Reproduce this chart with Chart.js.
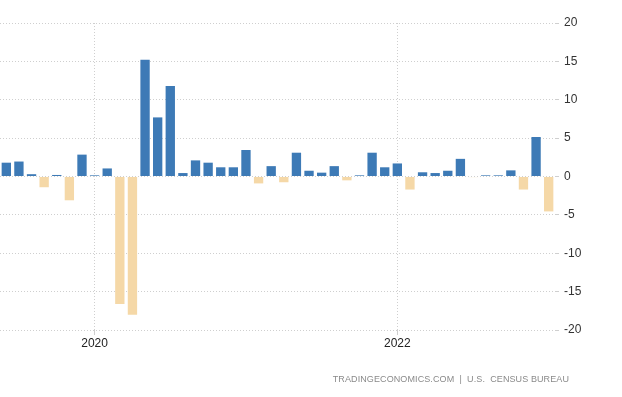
<!DOCTYPE html>
<html>
<head>
<meta charset="utf-8">
<script src="https://cdn.jsdelivr.net/npm/chart.js@4/dist/chart.umd.min.js"></script>
<style>
  html, body { margin: 0; padding: 0; background: #fff; }
  #wrap { position: relative; width: 622px; height: 397px; }
  #src { position: absolute; right: 53px; top: 374px; font-family: "Liberation Sans", Arial, sans-serif;
         font-size: 9px; color: #8a8a8a; letter-spacing: 0.1px; white-space: nowrap; }
</style>
</head>
<body>
<div id="wrap">
  <canvas id="c" width="622" height="397"></canvas>
  <div id="src">TRADINGECONOMICS.COM &nbsp;|&nbsp; U.S. &nbsp;CENSUS BUREAU</div>
</div>
<script>
const months = [
  '2019-06','2019-07','2019-08','2019-09','2019-10','2019-11','2019-12',
  '2020-01','2020-02','2020-03','2020-04','2020-05','2020-06','2020-07','2020-08','2020-09','2020-10','2020-11','2020-12',
  '2021-01','2021-02','2021-03','2021-04','2021-05','2021-06','2021-07','2021-08','2021-09','2021-10','2021-11','2021-12',
  '2022-01','2022-02','2022-03','2022-04','2022-05','2022-06','2022-07','2022-08','2022-09','2022-10','2022-11','2022-12',
  '2023-01'
];
const values = [
  1.8, 1.95, 0.3, -1.4, 0.2, -3.1, 2.85,
  0.15, 1.05, -16.6, -18.0, 15.2, 7.7, 11.8, 0.45, 2.1, 1.8, 1.2, 1.2,
  3.45, -0.9, 1.35, -0.75, 3.1, 0.75, 0.5, 1.35, -0.5, 0.15, 3.1, 1.2,
  1.7, -1.7, 0.55, 0.45, 0.75, 2.3, -0.08, 0.15, 0.15, 0.8, -1.7, 5.15,
  -4.55
];
const xTickMonths = ['2020-01', '2022-01'];
const yTicks = [20, 15, 10, 5, 0, -5, -10, -15, -20];

const POS = '#3d7ab6';
const NEG = '#f5d8a7';
const FONT = '"Liberation Sans", Arial, sans-serif';

new Chart(document.getElementById('c'), {
  type: 'bar',
  data: {
    labels: months,
    datasets: [{
      data: values,
      backgroundColor: values.map(v => v >= 0 ? POS : NEG),
      borderWidth: 0,
      barPercentage: 0.74,
      categoryPercentage: 1.0
    }]
  },
  options: {
    responsive: false,
    animation: false,
    events: [],
    layout: { padding: { top: 23, left: 0, right: 0, bottom: 0 } },
    plugins: { legend: { display: false }, tooltip: { enabled: false } },
    scales: {
      x: {
        offset: true,
        border: { display: false, dash: [1, 2] },
        grid: {
          offset: false,
          drawTicks: true,
          tickLength: 5,
          lineWidth: 1,
          color: ctx => (ctx.tick && xTickMonths.includes(months[ctx.index])) ? '#cfcfcf' : 'rgba(0,0,0,0)'
        },
        ticks: {
          autoSkip: false,
          maxRotation: 0,
          padding: 1,
          color: '#222',
          font: { family: FONT, size: 12 },
          callback: (v, i) => xTickMonths.includes(months[i]) ? months[i].slice(0, 4) : ''
        },
        afterFit: s => { s.height = 397 - 330; }
      },
      y: {
        position: 'right',
        min: -20,
        max: 20,
        border: { display: false, dash: [1, 2] },
        grid: {
          color: '#cfcfcf',
          lineWidth: 1,
          drawTicks: true,
          tickLength: 4
        },
        afterBuildTicks: s => { s.ticks = yTicks.map(v => ({ value: v })); },
        ticks: {
          padding: 5,
          color: '#333',
          font: { family: FONT, size: 12 }
        },
        afterFit: s => { s.width = 622 - 555; }
      }
    }
  }
});
</script>
</body>
</html>
